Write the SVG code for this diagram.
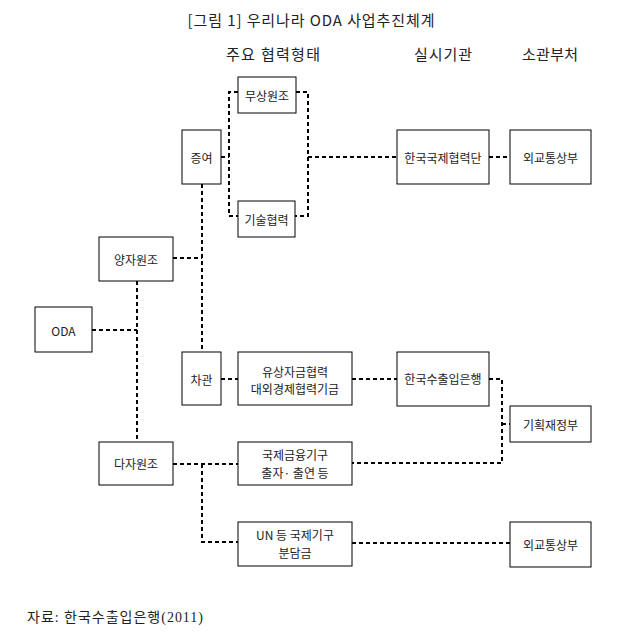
<svg xmlns="http://www.w3.org/2000/svg" width="618" height="636" viewBox="0 0 618 636">
<style>
text{font-family:"Noto Sans CJK KR","Noto Sans",sans-serif;fill:#222;}
.t{font-size:12px;text-anchor:middle;dominant-baseline:central;}
.h{font-size:15px;text-anchor:middle;dominant-baseline:central;}
.box{fill:#fff;stroke:#000;stroke-width:1;}
.c{fill:none;stroke:#000;stroke-width:2;stroke-dasharray:4 3;}
</style>
<rect width="618" height="636" fill="#fff"/>
<text class="h" x="311" y="19" textLength="247" lengthAdjust="spacing">[그림 1] 우리나라 ODA 사업추진체계</text>
<text class="h" x="273" y="53" textLength="94" lengthAdjust="spacing">주요 협력형태</text>
<text class="h" x="443" y="53" textLength="58" lengthAdjust="spacing">실시기관</text>
<text class="h" x="550" y="53" textLength="56" lengthAdjust="spacing">소관부처</text>

<g id="connectors">
<path class="c" d="M92,330 H137"/>
<path class="c" d="M137,281 V442"/>
<path class="c" d="M173,258 H202"/>
<path class="c" d="M202,184 V352"/>
<path class="c" d="M221,157 H229"/>
<path class="c" d="M238,92 H229 V216 H238"/>
<path class="c" d="M296,92 H308 V216 H295"/>
<path class="c" d="M308,157 H397"/>
<path class="c" d="M489,157 H510"/>
<path class="c" d="M221,379 H238"/>
<path class="c" d="M352,379 H397"/>
<path class="c" d="M489,379 H502 V463 H352"/>
<path class="c" d="M502,424 H510"/>
<path class="c" d="M173,464 H238"/>
<path class="c" d="M202,464 V542 H238"/>
<path class="c" d="M352,543 H510"/>
</g>

<g id="n-musang"><rect class="box" x="238" y="77" width="58" height="36"/><text class="t" x="267" y="95">무상원조</text></g>
<g id="n-jeungyeo"><rect class="box" x="182" y="130" width="39" height="54"/><text class="t" x="201.5" y="157">증여</text></g>
<g id="n-gisul"><rect class="box" x="238" y="201" width="57" height="36"/><text class="t" x="266.5" y="219">기술협력</text></g>
<g id="n-yangja"><rect class="box" x="99" y="237" width="74" height="44"/><text class="t" x="136" y="259">양자원조</text></g>
<g id="n-oda"><rect class="box" x="35" y="307" width="57" height="45"/><text class="t" x="63.5" y="330">ODA</text></g>
<g id="n-chagwan"><rect class="box" x="182" y="352" width="39" height="53"/><text class="t" x="201.5" y="379">차관</text></g>
<g id="n-yusang"><rect class="box" x="238" y="352" width="114" height="53"/><text class="t" x="295" y="371">유상자금협력</text><text class="t" x="295" y="388">대외경제협력기금</text></g>
<g id="n-koica"><rect class="box" x="397" y="130" width="92" height="54"/><text class="t" x="443" y="157">한국국제협력단</text></g>
<g id="n-mofat1"><rect class="box" x="510" y="130" width="81" height="54"/><text class="t" x="550.5" y="157">외교통상부</text></g>
<g id="n-exim"><rect class="box" x="397" y="352" width="92" height="54"/><text class="t" x="443" y="378">한국수출입은행</text></g>
<g id="n-mosf"><rect class="box" x="510" y="406" width="81" height="36"/><text class="t" x="550.5" y="424">기획재정부</text></g>
<g id="n-daja"><rect class="box" x="99" y="442" width="74" height="43"/><text class="t" x="136" y="463">다자원조</text></g>
<g id="n-ifi"><rect class="box" x="238" y="442" width="114" height="43"/><text class="t" x="295" y="454">국제금융기구</text><text class="t" x="295" y="472">출자· 출연 등</text></g>
<g id="n-un"><rect class="box" x="238" y="522" width="114" height="44"/><text class="t" x="295" y="534">UN 등 국제기구</text><text class="t" x="295" y="552">분담금</text></g>
<g id="n-mofat2"><rect class="box" x="510" y="522" width="81" height="45"/><text class="t" x="550.5" y="544">외교통상부</text></g>

<text x="27" y="617" style="font-family:'Liberation Serif','Noto Sans CJK KR',serif;font-size:14px;dominant-baseline:central" textLength="176" lengthAdjust="spacing">자료:  한국수출입은행(2011)</text>
</svg>
